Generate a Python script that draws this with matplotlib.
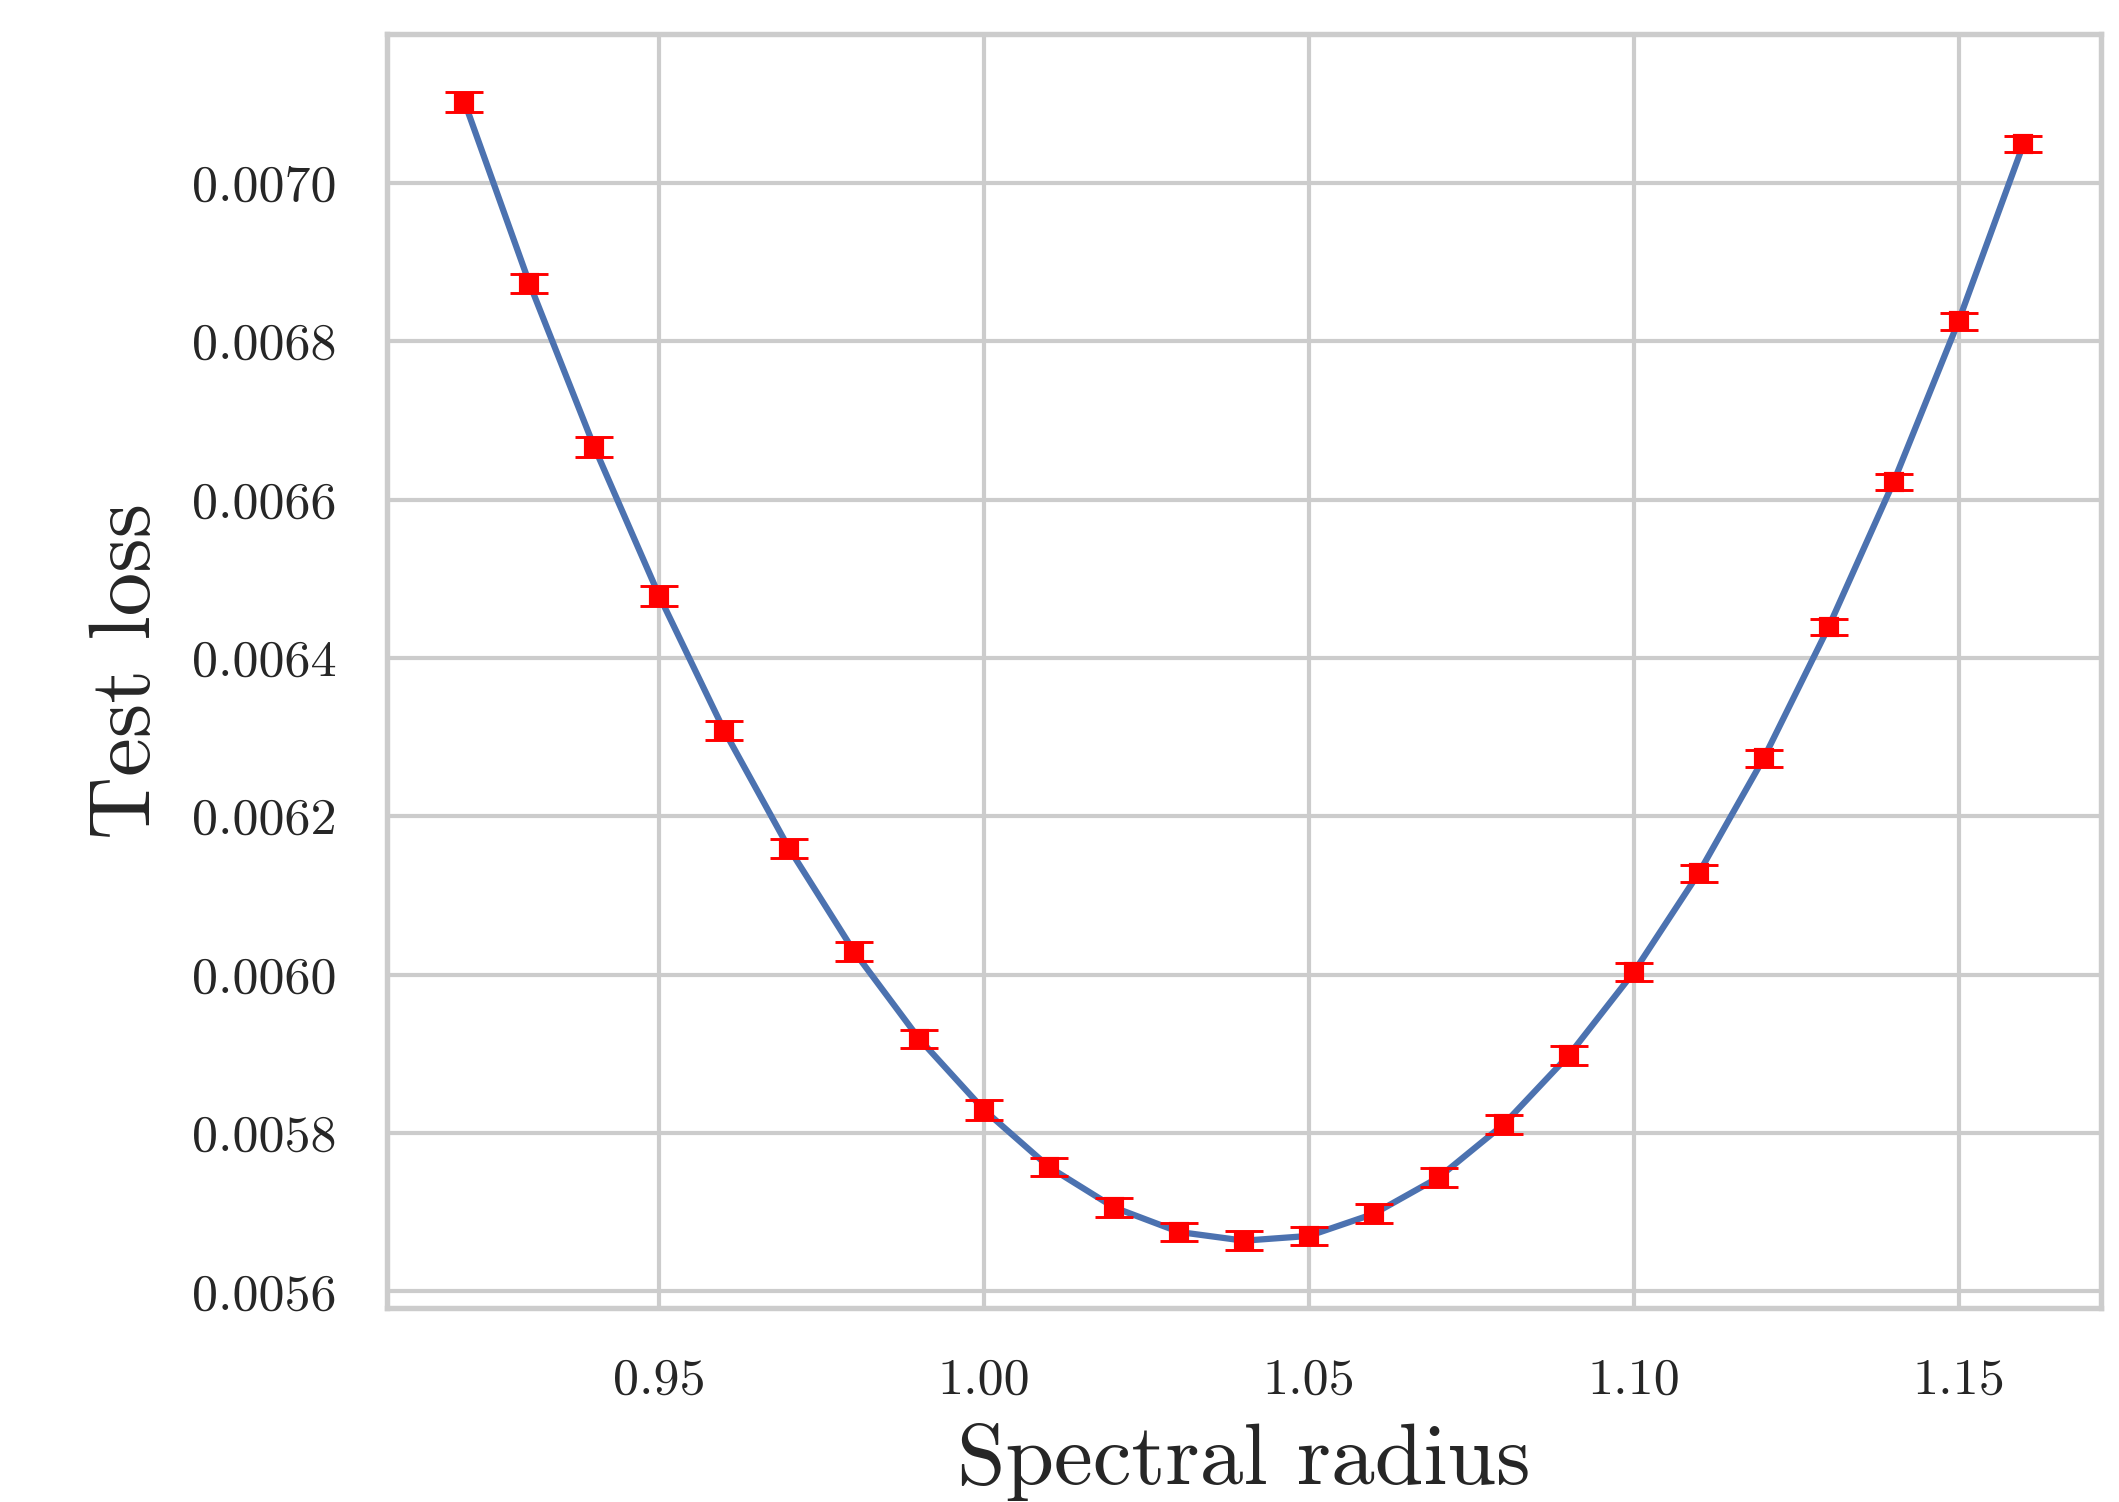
# Test loss vs spectral radius, with error bars
import matplotlib
matplotlib.use("Agg")
import matplotlib.pyplot as plt
import seaborn as sns

sns.set_theme(style="whitegrid")
plt.rcParams["font.family"] = ["cmr10", "DejaVu Serif"]
plt.rcParams["axes.formatter.use_mathtext"] = True
plt.rcParams["mathtext.fontset"] = "cm"

radius = [0.92, 0.93, 0.94, 0.95, 0.96, 0.97, 0.98, 0.99, 1.00, 1.01, 1.02, 1.03, 1.04,
          1.05, 1.06, 1.07, 1.08, 1.09, 1.10, 1.11, 1.12, 1.13, 1.14, 1.15, 1.16]
loss = [0.007102, 0.006873, 0.006666, 0.006478, 0.006308, 0.006159, 0.006029, 0.005919,
        0.005829, 0.005757, 0.005706, 0.005675, 0.005664, 0.005670, 0.005698, 0.005744,
        0.005811, 0.005898, 0.006003, 0.006128, 0.006273, 0.006439, 0.006622, 0.006825,
        0.007049]
loss_err = [1.3e-5, 1.23e-5, 1.28e-5, 1.26e-5, 1.2e-5, 1.2e-5, 1.2e-5, 1.15e-5,
            1.23e-5, 1.18e-5, 1.15e-5, 1.15e-5, 1.18e-5, 1.15e-5, 1.2e-5, 1.2e-5,
            1.18e-5, 1.18e-5, 1.15e-5, 1.1e-5, 1.1e-5, 1.0e-5, 1.0e-5, 1.04e-5, 1.04e-5]

fig = plt.figure(figsize=(2119 / 300, 1502 / 300), dpi=300)
ax = fig.add_axes([0.1824, 0.1292, 0.8093, 0.8483])

ax.plot(radius, loss, color="#4C72B0", lw=1.5)
ax.errorbar(radius, loss, yerr=loss_err, fmt="s", color="red", ms=4,
            capsize=4.5, elinewidth=0.7, capthick=0.7)

ax.set_xticks([0.95, 1.00, 1.05, 1.10, 1.15])
ax.set_xticklabels(["0.95", "1.00", "1.05", "1.10", "1.15"])
ax.set_yticks([0.0056, 0.0058, 0.0060, 0.0062, 0.0064, 0.0066, 0.0068, 0.0070])
ax.set_yticklabels(["0.0056", "0.0058", "0.0060", "0.0062", "0.0064", "0.0066",
                    "0.0068", "0.0070"])
ax.tick_params(labelsize=12.5, pad=6)
ax.set_xlabel("Spectral radius", fontsize=21, labelpad=4.5)
ax.set_ylabel("Test loss", fontsize=21, labelpad=6)
for s in ax.spines.values():
    s.set_linewidth(1.3)

fig.savefig("out.png", dpi=300)
